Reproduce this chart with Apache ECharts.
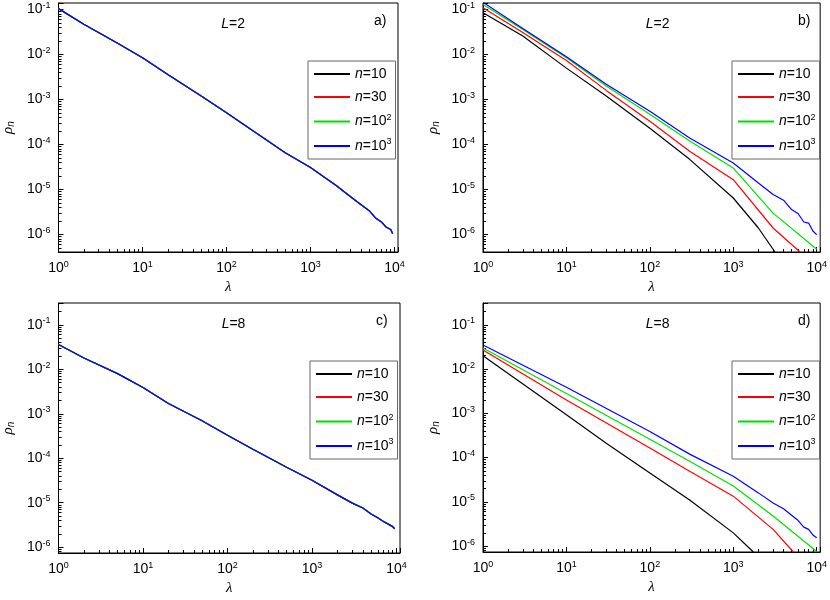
<!DOCTYPE html>
<html>
<head>
<meta charset="utf-8">
<script src="https://cdn.jsdelivr.net/npm/echarts@6/dist/echarts.min.js"></script>
<style>html,body{margin:0;padding:0;background:#fff}#chart{width:830px;height:600px}</style>
</head>
<body>
<div id="chart"></div>
<script>
// 数据
var lamA = [1, 2, 5, 10, 20, 50, 100, 200, 500, 1000, 2000, 3000, 4000, 5000, 6000, 7000, 8000, 9000, 9500];
var rhoA = [0.105, 0.047, 0.018, 8.5e-3, 3.6e-3, 1.2e-3, 5.1e-4, 2.1e-4, 6.6e-5, 3.1e-5, 1.25e-5, 6.9e-6, 4.6e-6, 3.4e-6, 2.3e-6, 1.9e-6, 1.45e-6, 1.3e-6, 1.05e-6];

var lamC = [1, 2, 5, 10, 20, 50, 100, 200, 500, 1000, 2000, 3000, 4000, 5000, 6000, 7000, 8000, 9000, 9500];
var rhoC = [0.036, 0.018, 8.0e-3, 3.9e-3, 1.7e-3, 7.0e-4, 3.3e-4, 1.6e-4, 6.3e-5, 3.2e-5, 1.5e-5, 9.8e-6, 7.6e-6, 5.6e-6, 4.6e-6, 3.8e-6, 3.3e-6, 2.9e-6, 2.6e-6];

// 面板 b, L=2
var lamB10 = [1, 3, 10, 30, 100, 300, 1000, 2000, 3160];
var rhoB10 = [0.085, 0.026, 5.0e-3, 1.2e-3, 2.3e-4, 4.7e-5, 6.5e-6, 1.4e-6, 4.1e-7];
var lamB30 = [1, 3, 10, 30, 100, 300, 1000, 3000, 6300];
var rhoB30 = [0.11, 0.031, 7.4e-3, 1.6e-3, 3.3e-4, 7.1e-5, 1.66e-5, 1.4e-6, 4.1e-7];
var lamB100 = [1, 3, 10, 30, 100, 300, 1000, 3000, 10000];
var rhoB100 = [0.13, 0.036, 8.5e-3, 2.0e-3, 4.7e-4, 1.2e-4, 3.0e-5, 3.0e-6, 4.7e-7];
var lamB1000 = [1, 3, 10, 30, 100, 300, 1000, 2000, 3000, 4000, 5000, 6000, 7000, 8000, 9000, 10000];
var rhoB1000 = [0.145, 0.038, 8.9e-3, 2.2e-3, 5.5e-4, 1.4e-4, 3.9e-5, 1.4e-5, 7.8e-6, 5.8e-6, 3.6e-6, 2.9e-6, 1.9e-6, 1.8e-6, 1.2e-6, 1.0e-6];

// 面板 d, L=8
var lamD10 = [1, 10, 30, 100, 300, 1000, 1740];
var rhoD10 = [0.02, 9.3e-4, 2.1e-4, 4.5e-5, 1.1e-5, 2.0e-6, 7.4e-7];
var lamD30 = [1, 10, 100, 300, 1000, 3000, 5250];
var rhoD30 = [0.027, 2.0e-3, 1.65e-4, 4.9e-5, 1.35e-5, 2.4e-6, 7.4e-7];
var lamD100 = [1, 10, 100, 300, 1000, 3000, 10000];
var rhoD100 = [0.03, 2.8e-3, 2.6e-4, 8.3e-5, 2.3e-5, 4.8e-6, 7.6e-7];
var lamD1000 = [1, 10, 100, 300, 1000, 2000, 3000, 4000, 5000, 6000, 7000, 8000, 9000, 10000];
var rhoD1000 = [0.035, 3.9e-3, 3.9e-4, 1.2e-4, 3.8e-5, 1.6e-5, 9.5e-6, 7.0e-6, 5.0e-6, 3.8e-6, 2.7e-6, 2.4e-6, 1.8e-6, 1.55e-6];

var seriesNames = ['n10', 'n30', 'n100', 'n1000'];
var legendLabels = {n10: '{i|n}=10', n30: '{i|n}=30', n100: '{i|n}=10{s|2}', n1000: '{i|n}=10{s|3}'};
var colors = ['#000000', '#ff0000', '#00e000', '#0000ff'];

var grids = [
  {left: 58, top: 3, width: 340, height: 249},
  {left: 483, top: 3, width: 339, height: 249},
  {left: 57, top: 303, width: 343, height: 250},
  {left: 483, top: 303, width: 339, height: 249}
];
var yRanges = [[4.1e-7, 0.14], [4.1e-7, 0.14], [7.4e-7, 0.31], [7.4e-7, 0.31]];
var panelData = [
  [[lamA, rhoA], [lamA, rhoA], [lamA, rhoA], [lamA, rhoA]],
  [[lamB10, rhoB10], [lamB30, rhoB30], [lamB100, rhoB100], [lamB1000, rhoB1000]],
  [[lamC, rhoC], [lamC, rhoC], [lamC, rhoC], [lamC, rhoC]],
  [[lamD10, rhoD10], [lamD30, rhoD30], [lamD100, rhoD100], [lamD1000, rhoD1000]]
];
var panelTags = ['a)', 'b)', 'c)', 'd)'];
var panelL = ['2', '2', '8', '8'];

var powLabel = function (v) {
  var e = Math.round(Math.log10(v));
  if (Math.abs(Math.log10(v) - e) > 1e-6) return '';
  return '10{s|' + e + '}';
};
var supRich = {s: {fontSize: 9, verticalAlign: 'top', padding: [0, 0, 8, 0], fontFamily: 'Liberation Sans'}};

var xAxes = [], yAxes = [], series = [], legends = [], graphics = [];
grids.forEach(function (g, p) {
  xAxes.push({
    type: 'log', logBase: 10, gridIndex: p, min: 1, max: 11000,
    name: 'λ', nameLocation: 'middle', nameGap: 28,
    nameTextStyle: {fontStyle: 'italic', fontSize: 15, fontFamily: 'Liberation Serif'},
    axisLine: {lineStyle: {color: '#000'}},
    axisTick: {inside: true, length: 5, lineStyle: {color: '#000'}},
    minorTick: {show: true, splitNumber: 9, length: 3, lineStyle: {color: '#000'}},
    splitLine: {show: false},
    axisLabel: {color: '#000', fontSize: 14, fontFamily: 'Liberation Sans', showMaxLabel: false, formatter: powLabel, rich: supRich}
  });
  yAxes.push({
    type: 'log', logBase: 10, gridIndex: p, min: yRanges[p][0], max: yRanges[p][1],
    name: '{i|ρ}{b|n}', nameLocation: 'middle', nameGap: 42, nameRotate: 90,
    nameTextStyle: {rich: {i: {fontStyle: 'italic', fontSize: 15, fontFamily: 'Liberation Serif'}, b: {fontStyle: 'italic', fontSize: 10, verticalAlign: 'bottom', padding: [6, 0, 0, 0]}}},
    axisLine: {lineStyle: {color: '#000'}},
    axisTick: {inside: true, length: 5, lineStyle: {color: '#000'}},
    minorTick: {show: true, splitNumber: 9, length: 3, lineStyle: {color: '#000'}},
    splitLine: {show: false},
    axisLabel: {color: '#000', fontSize: 14, fontFamily: 'Liberation Sans', showMinLabel: false, showMaxLabel: false, formatter: powLabel, rich: supRich}
  });
  seriesNames.forEach(function (nm, k) {
    var d = panelData[p][k];
    series.push({
      name: nm, type: 'line', xAxisIndex: p, yAxisIndex: p, symbol: 'none',
      lineStyle: {color: colors[k], width: 1.2}, itemStyle: {color: colors[k]},
      data: d[0].map(function (x, i) { return [x, d[1][i]]; }),
      clip: true, animation: false
    });
  });
  var lx = g.left + g.width - 90;
  legends.push({
    orient: 'vertical', left: lx, top: g.top + 58, itemWidth: 36, itemHeight: 2, itemGap: 9,
    icon: 'rect', borderColor: '#666', borderWidth: 1, padding: [6, 4, 6, 6], backgroundColor: '#fff',
    data: seriesNames,
    formatter: function (n) { return legendLabels[n]; },
    textStyle: {fontSize: 14, fontFamily: 'Liberation Sans', color: '#000',
      rich: {i: {fontStyle: 'italic', fontSize: 14, fontFamily: 'Liberation Sans'}, s: {fontSize: 9, verticalAlign: 'top', padding: [0, 0, 8, 0]}}}
  });
  graphics.push({
    type: 'text', left: g.left + g.width * 0.48, top: g.top + 14,
    style: {text: '{i|L}=' + panelL[p], fontSize: 14, fontFamily: 'Liberation Sans', fill: '#000',
      rich: {i: {fontStyle: 'italic', fontSize: 14, fontFamily: 'Liberation Sans'}}}
  });
  graphics.push({
    type: 'text', left: g.left + g.width - 24, top: g.top + 11,
    style: {text: panelTags[p], fontSize: 14, fontFamily: 'Liberation Sans', fill: '#000'}
  });
});

var chart = echarts.init(document.getElementById('chart'));
chart.setOption({
  animation: false,
  grid: grids.map(function (g) { return Object.assign({show: true, borderColor: '#000', borderWidth: 1}, g); }),
  xAxis: xAxes,
  yAxis: yAxes,
  legend: legends,
  graphic: graphics,
  series: series
});
</script>
</body>
</html>
